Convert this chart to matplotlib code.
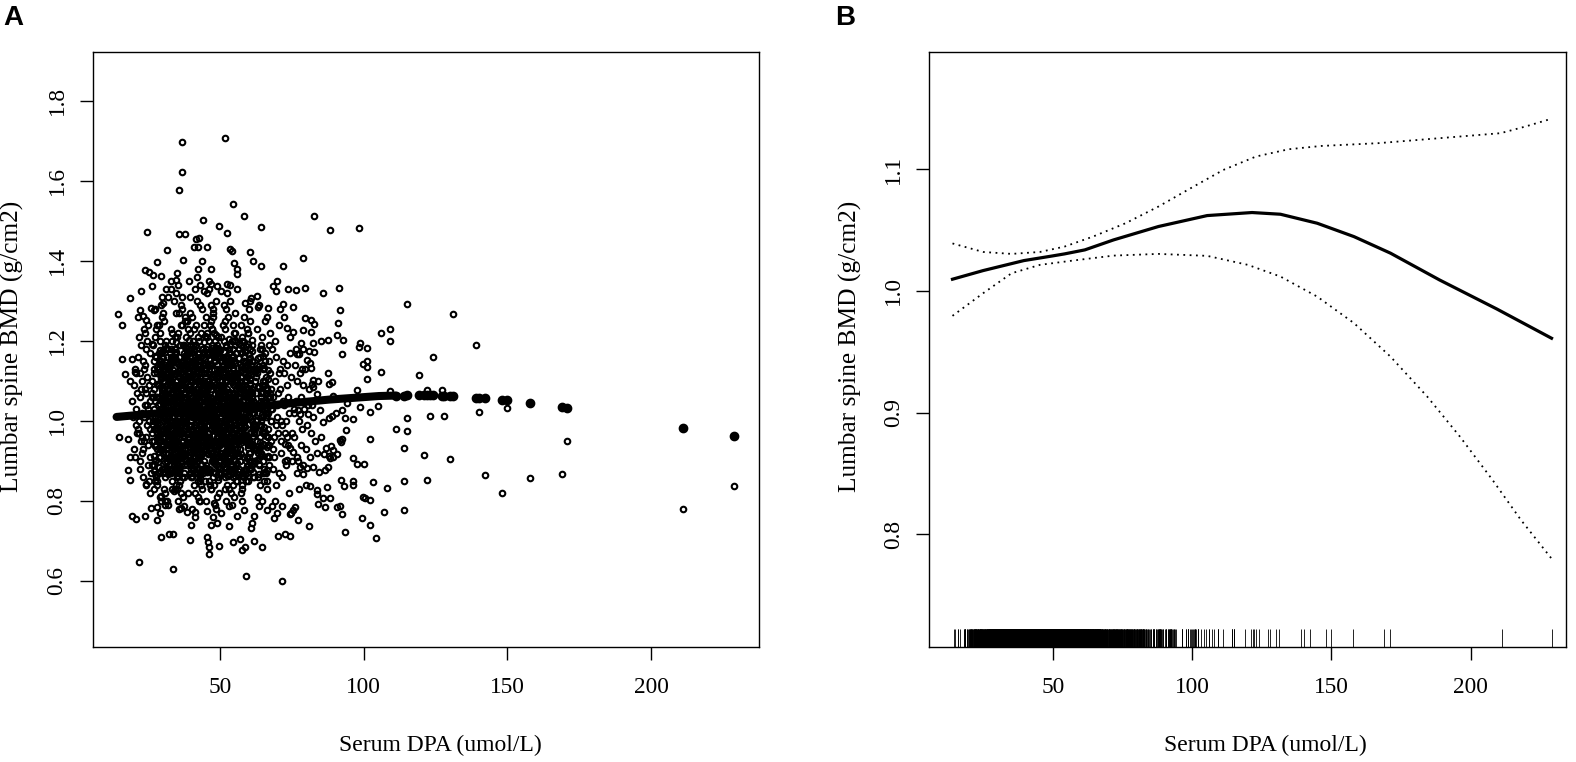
import numpy as np
import matplotlib.pyplot as plt

plt.rcParams['font.family'] = ['Liberation Serif', 'DejaVu Serif']

edge_dpa = [
    36.8, 36.7, 35.8, 51.9, 54.6, 58.2, 64.4, 44.2, 49.8, 52.5,
    24.7, 35.6, 37.9, 31.4, 28.1, 24.0, 25.3, 26.7, 29.4, 37.0,
    41.8, 42.8, 41.1, 42.3, 45.4, 43.9, 46.7, 54.2, 53.5, 54.7,
    55.8, 56.0, 60.4, 61.4, 64.4, 14.4, 16.0, 18.6, 16.0, 16.8,
    19.3, 22.1, 23.3, 24.4, 26.0, 27.0, 26.3, 20.3, 18.6, 14.9,
    18.1, 18.6, 18.1, 18.6, 19.3, 20.7, 23.9, 21.8, 33.7, 33.7,
    32.3, 29.5, 28.1, 28.2, 30.9, 39.6, 45.6, 45.8, 46.3, 46.3,
    49.8, 46.7, 53.3, 54.4, 56.8, 57.5, 58.6, 59.1, 60.7, 61.8,
    64.6, 36.5, 38.6, 41.4, 47.9, 64.6, 68.1, 33.0, 34.6, 31.8,
    30.2, 39.1, 43.2, 44.4, 47.0, 48.8, 50.5, 52.3, 55.8, 58.8,
    60.7, 62.8, 63.2, 66.7, 68.6, 69.5, 26.3, 22.5, 29.5, 33.9,
    37.4, 42.6, 45.3, 50.5, 53.2, 55.8, 58.4, 61.9, 63.7, 66.3,
    68.9, 71.6, 74.7, 40.0, 48.8, 61.1, 26.0, 24.2,
]
edge_bmd = [
    1.696, 1.622, 1.578, 1.706, 1.543, 1.512, 1.485, 1.501, 1.488, 1.470,
    1.473, 1.466, 1.466, 1.426, 1.398, 1.377, 1.371, 1.365, 1.363, 1.401,
    1.454, 1.456, 1.434, 1.435, 1.434, 1.400, 1.379, 1.424, 1.430, 1.394,
    1.379, 1.366, 1.422, 1.399, 1.388, 1.266, 1.239, 1.307, 1.154, 1.117,
    1.154, 1.276, 1.263, 1.251, 1.282, 1.276, 1.193, 1.123, 1.099, 0.959,
    0.954, 0.910, 0.876, 0.851, 0.763, 0.754, 0.761, 0.648, 0.629, 0.717,
    0.717, 0.709, 0.751, 0.785, 0.800, 0.702, 0.709, 0.696, 0.684, 0.668,
    0.687, 0.739, 0.737, 0.696, 0.705, 0.678, 0.684, 0.613, 0.733, 0.699,
    0.684, 0.782, 0.773, 0.773, 0.794, 0.800, 0.788, 1.330, 1.351, 1.310,
    1.294, 1.349, 1.339, 1.324, 1.343, 1.337, 1.324, 1.343, 1.329, 1.294,
    1.306, 1.312, 1.285, 1.283, 1.337, 1.324, 1.337, 1.324, 0.812, 0.824,
    0.788, 0.800, 0.775, 0.770, 0.788, 0.763, 0.776, 0.763, 0.788, 0.776,
    0.757, 0.788, 0.770, 0.739, 0.745, 0.745, 0.782, 0.843,
]

# observed points right of x = 70
tail_dpa = [
    82.8, 88.3, 98.5, 79.0, 71.8, 70.0, 73.8, 76.5, 79.7, 86.0,
    91.4, 72.0, 75.3, 91.9, 79.6, 81.6, 82.8, 73.4, 75.5, 78.8,
    91.2, 81.6, 115.1, 131.1, 139.1, 106.0, 109.2, 109.2, 98.7, 101.0,
    98.5, 85.2, 87.7, 90.6, 92.7, 92.6, 82.2, 78.1, 79.0, 81.1,
    82.8, 76.7, 77.5, 124.1, 119.1, 106.2, 101.0, 99.9, 101.3, 101.0,
    97.8, 87.5, 88.9, 88.1, 82.2, 81.9, 82.5, 81.7, 81.3, 78.5,
    80.2, 76.7, 83.6, 89.2, 109.2, 122.0, 127.2, 105.1, 98.7, 102.2,
    94.1, 92.3, 93.5, 96.2, 86.0, 88.1, 88.9, 90.4, 84.8, 80.7,
    77.8, 77.3, 115.1, 123.1, 128.1, 140.1, 150.0, 115.1, 111.1, 102.2,
    93.9, 92.1, 92.3, 89.4, 88.5, 86.9, 86.3, 88.1, 114.2, 121.1,
    130.2, 96.2, 97.8, 100.2, 114.2, 122.2, 142.2, 148.0, 157.9, 108.0,
    103.1, 92.1, 93.2, 96.4, 96.4, 87.1, 83.6, 81.3, 99.7, 100.5,
    102.2, 114.2, 107.2, 99.3, 102.2, 104.3, 93.5, 91.8, 90.6, 92.3,
    88.3, 86.0, 83.6, 84.2, 86.5, 81.1, 77.0, 75.5, 76.1, 74.4,
    70.3, 72.6, 74.4, 70.0, 71.5, 77.8, 80.2, 79.0, 76.7, 82.5,
    84.6, 86.5, 87.7, 88.3, 89.4, 90.6, 91.8, 75.5, 74.4, 72.6,
    73.2, 169.0, 170.9, 211.1, 229.0,
]
tail_bmd = [
    1.512, 1.477, 1.483, 1.406, 1.387, 1.349, 1.329, 1.327, 1.331, 1.320,
    1.331, 1.291, 1.284, 1.276, 1.256, 1.252, 1.242, 1.231, 1.223, 1.227,
    1.244, 1.222, 1.293, 1.266, 1.189, 1.219, 1.229, 1.199, 1.194, 1.182,
    1.185, 1.199, 1.202, 1.214, 1.202, 1.167, 1.195, 1.195, 1.180, 1.175,
    1.171, 1.167, 1.167, 1.159, 1.114, 1.123, 1.135, 1.143, 1.150, 1.105,
    1.078, 1.120, 1.098, 1.092, 1.103, 1.093, 1.085, 1.133, 1.145, 1.130,
    1.152, 1.100, 1.067, 1.062, 1.075, 1.078, 1.077, 1.037, 1.035, 1.023,
    1.044, 1.027, 1.006, 1.004, 0.998, 1.008, 1.012, 1.020, 1.027, 1.018,
    1.018, 1.028, 1.008, 1.013, 1.013, 1.022, 1.031, 0.975, 0.979, 0.954,
    0.978, 0.948, 0.954, 0.927, 0.938, 0.931, 0.918, 0.912, 0.931, 0.914,
    0.904, 0.908, 0.892, 0.893, 0.849, 0.853, 0.864, 0.820, 0.858, 0.831,
    0.848, 0.853, 0.837, 0.849, 0.839, 0.834, 0.827, 0.837, 0.810, 0.806,
    0.803, 0.778, 0.773, 0.758, 0.739, 0.706, 0.722, 0.787, 0.785, 0.766,
    0.806, 0.806, 0.818, 0.793, 0.785, 0.737, 0.752, 0.777, 0.785, 0.768,
    0.712, 0.716, 0.712, 0.770, 0.599, 0.885, 0.881, 0.868, 0.910, 0.885,
    0.873, 0.877, 0.885, 0.906, 0.910, 0.918, 0.952, 0.923, 0.931, 0.943,
    0.902, 0.866, 0.950, 0.780, 0.836,
]

# the body of the cloud, estimated column by column
core_dpa = [
    19.5, 20.2, 20.8, 21.4, 21.9, 22.3, 22.8, 23.1, 23.6, 24.0,
    24.4, 24.9, 25.3, 25.8, 20.5, 21.1, 21.7, 22.5, 23.3, 23.9,
    24.6, 25.1, 25.6, 19.8, 20.9, 22.0, 22.7, 23.5, 24.2, 24.8,
    25.5, 21.3, 22.1, 23.0, 23.8, 24.5, 25.2, 25.9, 20.6, 21.6,
    22.4, 23.4, 24.3, 25.0, 25.7, 19.9, 21.0, 22.2, 23.2, 24.1,
    24.7, 25.4, 21.8, 22.9, 23.7, 24.5, 25.6, 20.4, 22.6, 24.0,
    26.3, 27.1, 27.8, 28.4, 29.0, 29.6, 30.2, 30.8, 31.4, 31.9,
    26.7, 27.4, 28.1, 28.8, 29.3, 29.9, 30.5, 31.1, 31.7, 26.5,
    27.2, 27.9, 28.6, 29.2, 29.8, 30.4, 31.0, 31.6, 26.9, 27.6,
    28.3, 28.9, 29.5, 30.1, 30.7, 31.3, 31.8, 26.4, 27.0, 27.7,
    28.2, 28.7, 29.4, 30.0, 30.6, 31.2, 31.5, 26.8, 27.5, 28.5,
    29.1, 29.7, 30.3, 30.9, 31.6, 26.6, 27.3, 28.0, 28.6, 29.2,
    29.8, 30.4, 31.0, 31.7, 26.2, 27.0, 27.9, 28.4, 29.5, 30.1,
    30.8, 31.4, 31.9, 26.9, 27.6, 28.3, 29.0, 29.6, 30.2, 30.7,
    31.3, 27.2, 28.0, 28.8, 29.4, 30.0, 30.6, 31.1, 31.8, 26.5,
    27.4, 28.1, 28.9, 29.7, 30.5, 31.2, 27.8, 28.7, 29.9, 30.9,
    31.5, 26.7, 27.5, 28.2, 29.3, 30.3, 31.0, 31.6, 27.1, 28.5,
    29.1, 30.0, 30.7, 31.4, 26.4, 27.7, 28.6, 29.8, 30.4, 31.9,
    32.2, 32.8, 33.4, 34.0, 34.6, 35.2, 35.8, 36.4, 37.0, 37.6,
    32.5, 33.1, 33.7, 34.3, 34.9, 35.5, 36.1, 36.7, 37.3, 37.9,
    32.0, 32.6, 33.2, 33.8, 34.4, 35.0, 35.6, 36.2, 36.8, 37.4,
    32.9, 33.5, 34.1, 34.7, 35.3, 35.9, 36.5, 37.1, 37.7, 32.3,
    33.0, 33.6, 34.2, 34.8, 35.4, 36.0, 36.6, 37.2, 37.8, 32.7,
    33.3, 33.9, 34.5, 35.1, 35.7, 36.3, 36.9, 37.5, 32.1, 32.4,
    33.8, 34.4, 35.0, 35.6, 36.2, 36.8, 37.4, 32.6, 33.2, 34.0,
    34.6, 35.2, 35.8, 36.4, 37.0, 37.6, 32.8, 33.4, 34.2, 34.9,
    35.5, 36.1, 36.7, 37.3, 37.9, 32.2, 33.0, 33.7, 34.5, 35.3,
    36.0, 36.6, 37.2, 37.7, 32.5, 33.3, 34.1, 34.8, 35.6, 36.3,
    36.9, 37.5, 32.9, 33.6, 34.3, 35.0, 35.7, 36.4, 37.1, 37.8,
    32.3, 33.1, 33.9, 34.7, 35.4, 36.2, 36.8, 37.5, 32.7, 34.4,
    35.1, 35.9, 36.6, 37.3, 33.5, 34.1, 35.8, 36.5, 37.0, 32.0,
    33.8, 34.6, 35.3, 36.0, 36.7, 37.4, 32.4, 33.2, 34.9, 35.6,
    36.3, 37.0, 37.6, 32.6, 33.4, 34.2, 35.0, 35.7, 36.4, 37.2,
    32.8, 33.6, 34.5, 35.4, 36.1, 36.9, 37.7, 33.0, 34.0, 35.2,
    38.2, 38.8, 39.4, 40.0, 40.6, 41.2, 41.8, 42.4, 43.0, 43.6,
    38.5, 39.1, 39.7, 40.3, 40.9, 41.5, 42.1, 42.7, 43.3, 43.9,
    38.0, 38.6, 39.2, 39.8, 40.4, 41.0, 41.6, 42.2, 42.8, 43.4,
    38.9, 39.5, 40.1, 40.7, 41.3, 41.9, 42.5, 43.1, 43.7, 38.3,
    39.0, 39.6, 40.2, 40.8, 41.4, 42.0, 42.6, 43.2, 43.8, 38.7,
    39.3, 39.9, 40.5, 41.1, 41.7, 42.3, 42.9, 43.5, 38.1, 38.4,
    39.8, 40.4, 41.0, 41.6, 42.2, 42.8, 43.4, 38.6, 39.2, 40.0,
    40.6, 41.2, 41.8, 42.4, 43.0, 43.6, 38.8, 39.4, 40.2, 40.9,
    41.5, 42.1, 42.7, 43.3, 43.9, 38.2, 39.0, 39.7, 40.5, 41.3,
    42.0, 42.6, 43.2, 43.7, 38.5, 39.3, 40.1, 40.8, 41.6, 42.3,
    42.9, 43.5, 38.9, 39.6, 40.3, 41.0, 41.7, 42.4, 43.1, 43.8,
    38.3, 39.1, 39.9, 40.7, 41.4, 42.2, 42.8, 43.5, 38.7, 40.4,
    41.1, 41.9, 42.6, 43.3, 39.5, 40.1, 41.8, 42.5, 43.0, 38.0,
    39.8, 40.6, 41.3, 42.0, 42.7, 43.4, 38.4, 39.2, 40.9, 41.6,
    42.3, 43.0, 43.6, 38.6, 39.4, 40.2, 41.0, 41.7, 42.4, 43.2,
    38.8, 39.6, 40.5, 41.4, 42.1, 42.9, 43.7, 39.0, 40.0, 41.2,
    44.2, 44.8, 45.4, 46.0, 46.6, 47.2, 47.8, 48.4, 49.0, 49.6,
    44.5, 45.1, 45.7, 46.3, 46.9, 47.5, 48.1, 48.7, 49.3, 49.9,
    44.0, 44.6, 45.2, 45.8, 46.4, 47.0, 47.6, 48.2, 48.8, 49.4,
    44.9, 45.5, 46.1, 46.7, 47.3, 47.9, 48.5, 49.1, 49.7, 44.3,
    45.0, 45.6, 46.2, 46.8, 47.4, 48.0, 48.6, 49.2, 49.8, 44.7,
    45.3, 45.9, 46.5, 47.1, 47.7, 48.3, 48.9, 49.5, 44.1, 44.4,
    45.8, 46.4, 47.0, 47.6, 48.2, 48.8, 49.4, 44.6, 45.2, 46.0,
    46.6, 47.2, 47.8, 48.4, 49.0, 49.6, 44.8, 45.4, 46.2, 46.9,
    47.5, 48.1, 48.7, 49.3, 49.9, 44.2, 45.0, 45.7, 46.5, 47.3,
    48.0, 48.6, 49.2, 49.7, 44.5, 45.3, 46.1, 46.8, 47.6, 48.3,
    48.9, 49.5, 44.9, 45.6, 46.3, 47.0, 47.7, 48.4, 49.1, 49.8,
    44.3, 45.1, 45.9, 46.7, 47.4, 48.2, 48.8, 49.5, 44.7, 46.4,
    47.1, 47.9, 48.6, 49.3, 45.5, 46.1, 47.8, 48.5, 49.0, 44.0,
    45.8, 46.6, 47.3, 48.0, 48.7, 49.4, 44.4, 45.2, 46.9, 47.6,
    48.3, 49.0, 49.6, 44.6, 45.4, 46.2, 47.0, 47.7, 48.4, 49.2,
    44.8, 45.6, 46.5, 47.4, 48.1, 48.9, 49.7, 45.0, 46.0, 47.2,
    50.2, 50.8, 51.4, 52.0, 52.6, 53.2, 53.8, 54.4, 55.0, 55.6,
    50.5, 51.1, 51.7, 52.3, 52.9, 53.5, 54.1, 54.7, 55.3, 55.9,
    50.0, 50.6, 51.2, 51.8, 52.4, 53.0, 53.6, 54.2, 54.8, 55.4,
    50.9, 51.5, 52.1, 52.7, 53.3, 53.9, 54.5, 55.1, 55.7, 50.3,
    51.0, 51.6, 52.2, 52.8, 53.4, 54.0, 54.6, 55.2, 55.8, 50.7,
    51.3, 51.9, 52.5, 53.1, 53.7, 54.3, 54.9, 55.5, 50.1, 50.4,
    51.8, 52.4, 53.0, 53.6, 54.2, 54.8, 55.4, 50.6, 51.2, 52.0,
    52.6, 53.2, 53.8, 54.4, 55.0, 55.6, 50.8, 51.4, 52.2, 52.9,
    53.5, 54.1, 54.7, 55.3, 55.9, 50.2, 51.0, 51.7, 52.5, 53.3,
    54.0, 54.6, 55.2, 55.7, 50.5, 51.3, 52.1, 52.8, 53.6, 54.3,
    54.9, 55.5, 50.9, 51.6, 52.3, 53.0, 53.7, 54.4, 55.1, 55.8,
    50.3, 51.1, 51.9, 52.7, 53.4, 54.2, 54.8, 55.5, 50.7, 52.4,
    53.1, 53.9, 54.6, 55.3, 51.5, 52.1, 53.8, 54.5, 55.0, 50.0,
    51.8, 52.6, 53.3, 54.0, 54.7, 55.4, 50.4, 51.2, 52.9, 53.6,
    56.2, 56.8, 57.4, 58.0, 58.6, 59.2, 59.8, 60.4, 61.0, 61.6,
    56.5, 57.1, 57.7, 58.3, 58.9, 59.5, 60.1, 60.7, 61.3, 61.9,
    56.0, 56.6, 57.2, 57.8, 58.4, 59.0, 59.6, 60.2, 60.8, 61.4,
    56.9, 57.5, 58.1, 58.7, 59.3, 59.9, 60.5, 61.1, 61.7, 56.3,
    57.0, 57.6, 58.2, 58.8, 59.4, 60.0, 60.6, 61.2, 61.8, 56.7,
    57.3, 57.9, 58.5, 59.1, 59.7, 60.3, 60.9, 61.5, 56.1, 56.4,
    57.8, 58.4, 59.0, 59.6, 60.2, 60.8, 61.4, 56.6, 57.2, 58.0,
    58.6, 59.2, 59.8, 60.4, 61.0, 61.6, 56.8, 57.4, 58.2, 58.9,
    59.5, 60.1, 60.7, 61.3, 61.9, 56.2, 57.0, 57.7, 58.5, 59.3,
    60.0, 60.6, 61.2, 61.7, 56.5, 57.3, 58.1, 58.8, 59.6, 60.3,
    60.9, 61.5, 56.9, 57.6, 58.3, 59.0, 59.7, 60.4, 61.1, 61.8,
    62.3, 62.9, 63.5, 64.1, 64.7, 65.3, 65.9, 66.5, 67.1, 67.7,
    62.6, 63.2, 63.8, 64.4, 65.0, 65.6, 66.2, 66.8, 67.4, 62.1,
    62.8, 63.4, 64.0, 64.6, 65.2, 65.8, 66.4, 67.0, 67.6, 63.0,
    63.6, 64.2, 64.8, 65.4, 66.0, 66.6, 67.2, 67.8, 62.4, 63.1,
    64.3, 64.9, 65.5, 66.1, 66.7, 67.3, 62.7, 63.3, 63.9, 64.5,
    65.1, 65.7, 66.3, 66.9, 67.5, 62.2, 62.8, 63.7, 64.4, 65.0,
    65.6, 66.2, 66.8, 67.4, 62.5, 63.5, 64.1, 64.9, 65.9, 66.6,
    67.0, 67.9, 62.9, 63.8, 64.6, 65.4, 66.0, 66.9, 67.6, 63.2,
    68.2, 68.9, 69.6, 70.3, 71.0, 71.7, 72.4, 73.1, 73.8, 74.5,
    68.5, 69.2, 69.9, 70.6, 71.3, 72.0, 72.7, 73.4, 74.1, 75.2,
    68.0, 68.7, 69.4, 70.1, 70.8, 71.5, 72.2, 72.9, 73.6, 74.8,
    68.4, 69.1, 69.8, 70.5, 71.2, 71.9, 72.6, 73.3, 74.0, 75.6,
    68.6, 69.5, 70.4, 71.4, 72.3, 73.2, 74.2, 75.0, 69.0, 70.9,
    75.8, 76.4, 77.1, 77.9, 78.6, 79.3, 80.1, 80.8, 81.6, 82.4,
    76.1, 76.9, 77.6, 78.3, 79.0, 79.8, 80.5, 81.3, 83.1, 84.0,
    75.9, 76.6, 77.4, 78.1, 78.9, 79.6, 80.3, 82.0, 83.7, 85.1,
]
core_bmd = [
    1.05, 0.93, 1.12, 0.98, 1.21, 0.88, 1.02, 1.15, 0.95, 1.08,
    0.84, 1.24, 1.00, 0.91, 1.13, 1.07, 0.97, 1.19, 0.86, 1.04,
    1.11, 0.94, 1.17, 1.01, 0.99, 0.90, 1.10, 1.23, 0.96, 1.03,
    0.82, 1.16, 1.06, 0.92, 1.14, 0.99, 1.09, 0.87, 1.03, 1.26,
    0.95, 1.01, 1.18, 0.89, 1.05, 1.09, 0.97, 1.12, 0.93, 1.07,
    1.20, 0.85, 1.00, 0.96, 1.13, 1.04, 0.98, 0.91, 1.08, 1.22,
    0.97, 1.13, 0.86, 1.04, 1.22, 0.93, 1.08, 0.79, 1.16, 1.01,
    1.19, 0.90, 1.06, 0.95, 1.29, 1.02, 0.88, 1.11, 0.99, 1.07,
    0.83, 1.00, 1.17, 0.91, 1.05, 1.25, 0.96, 1.12, 1.03, 0.94,
    1.09, 0.87, 1.14, 0.98, 0.82, 1.20, 1.04, 0.89, 1.15, 1.00,
    1.24, 0.96, 0.80, 1.10, 1.01, 0.92, 1.18, 1.06, 0.85, 1.13,
    1.02, 1.31, 0.94, 1.07, 0.88, 0.99, 1.21, 0.93, 1.09, 0.77,
    1.14, 0.97, 1.03, 0.90, 1.06, 1.12, 0.84, 1.01, 0.95, 1.27,
    0.86, 1.08, 1.18, 0.98, 1.23, 1.04, 0.81, 1.15, 0.92, 1.05,
    0.99, 0.89, 1.12, 1.02, 1.17, 0.87, 1.00, 1.33, 0.94, 1.10,
    1.05, 0.97, 0.91, 1.26, 0.83, 1.07, 1.16, 0.95, 1.03, 1.19,
    0.90, 1.00, 1.28, 0.85, 1.11, 0.96, 1.14, 0.80, 1.08, 0.98,
    1.20, 0.93, 1.02, 1.09, 0.95, 1.06, 1.24, 0.88, 1.13, 0.97,
    1.02, 0.88, 1.15, 0.96, 1.27, 0.83, 1.09, 1.00, 0.92, 1.19,
    1.06, 1.23, 0.90, 1.12, 0.98, 1.34, 0.85, 1.04, 1.17, 0.94,
    0.79, 1.10, 1.01, 0.93, 1.21, 1.07, 0.97, 1.14, 0.86, 1.03,
    1.18, 0.95, 1.30, 1.05, 0.89, 1.11, 0.99, 0.81, 1.25, 1.08,
    0.91, 1.03, 1.16, 0.84, 1.07, 0.97, 1.28, 1.13, 1.00, 0.87,
    1.22, 0.99, 0.94, 1.37, 1.02, 0.90, 1.08, 0.96, 1.14, 1.05,
    0.97, 1.18, 1.06, 0.88, 1.13, 1.31, 0.92, 1.09, 0.83, 1.01,
    1.10, 0.86, 1.02, 1.24, 0.95, 1.07, 0.98, 1.20, 0.91, 1.15,
    0.89, 1.12, 0.97, 1.04, 1.26, 1.08, 0.94, 1.00, 1.17, 0.80,
    1.03, 0.93, 1.19, 0.99, 1.11, 0.85, 1.06, 1.32, 0.96, 1.09,
    1.14, 1.00, 0.87, 1.05, 0.92, 1.21, 0.98, 0.82, 1.08, 1.03,
    0.95, 1.16, 1.01, 0.90, 1.12, 0.97, 1.24, 1.06, 0.88, 1.18,
    1.00, 0.84, 1.09, 1.15, 0.99, 1.04, 0.93, 1.29, 1.02, 1.11,
    1.07, 0.96, 1.22, 0.91, 1.03, 0.86, 1.13, 0.98, 1.05, 0.78,
    0.92, 1.10, 1.01, 1.17, 0.94, 1.08, 0.89, 1.27, 1.04, 0.97,
    1.12, 0.99, 0.83, 1.06, 1.19, 0.95, 1.02, 1.35, 0.90, 1.10,
    0.94, 1.11, 1.03, 0.86, 1.20, 0.99, 1.07, 0.90, 1.16, 1.01,
    1.25, 0.96, 1.08, 1.14, 0.84, 1.02, 1.30, 0.93, 1.05, 0.98,
    1.06, 0.89, 1.17, 1.00, 0.95, 1.23, 0.87, 1.10, 0.97, 1.13,
    0.82, 1.04, 0.92, 1.19, 1.09, 0.95, 1.15, 1.03, 0.88, 1.21,
    1.12, 1.27, 0.98, 1.01, 0.91, 1.36, 1.05, 0.85, 1.18, 0.96,
    0.99, 0.87, 1.13, 0.93, 1.24, 1.06, 0.80, 1.09, 1.02, 1.15,
    1.19, 1.01, 0.90, 1.08, 0.97, 1.14, 1.22, 0.94, 1.05, 0.88,
    0.96, 1.33, 1.04, 0.85, 1.11, 0.99, 1.17, 0.91, 1.26, 1.03,
    1.07, 0.92, 1.20, 1.00, 0.83, 1.13, 0.97, 1.09, 0.94, 1.16,
    0.88, 1.05, 0.99, 1.28, 1.02, 0.90, 1.14, 0.96, 1.07, 0.81,
    1.10, 0.95, 1.23, 0.87, 1.04, 1.18, 0.93, 1.01, 1.29, 0.98,
    1.03, 1.15, 0.89, 1.06, 0.97, 1.21, 1.00, 0.84, 1.12, 0.92,
    0.95, 1.08, 1.17, 0.99, 1.31, 0.86, 1.05, 1.12, 0.91, 1.02,
    1.14, 0.98, 0.82, 1.10, 1.02, 0.94, 1.25, 1.07, 0.89, 1.19,
    1.00, 0.91, 1.06, 0.97, 1.16, 0.78, 1.11, 1.03, 1.38, 0.95,
    1.08, 1.22, 0.94, 1.01, 0.87, 1.13, 1.04, 0.96, 1.10, 0.76,
    1.01, 0.85, 1.12, 0.97, 1.06, 1.23, 0.90, 1.15, 0.99, 0.82,
    0.93, 1.18, 1.04, 0.88, 1.29, 1.00, 1.09, 0.95, 1.21, 1.07,
    1.14, 0.98, 0.80, 1.10, 0.94, 1.03, 1.26, 0.87, 1.05, 0.96,
    1.08, 1.32, 0.96, 1.02, 1.17, 0.84, 1.11, 0.99, 0.91, 1.24,
    0.89, 1.06, 1.20, 0.95, 1.01, 1.13, 0.78, 1.07, 1.16, 1.00,
    1.22, 0.92, 1.05, 1.14, 0.86, 0.98, 1.19, 1.03, 0.94, 1.10,
    0.97, 1.09, 0.83, 1.27, 1.04, 0.93, 1.02, 1.12, 0.88, 1.35,
    1.05, 0.90, 1.15, 0.99, 0.81, 1.08, 0.96, 1.21, 1.01, 0.92,
    1.11, 1.01, 0.94, 1.18, 1.07, 0.87, 1.13, 0.97, 1.24, 1.04,
    0.95, 1.30, 1.06, 0.90, 1.16, 1.02, 0.85, 1.09, 0.99, 1.20,
    1.02, 0.88, 1.12, 1.05, 0.93, 1.25, 1.00, 0.79, 1.14, 0.97,
    1.17, 1.03, 0.96, 1.08, 1.28, 0.91, 1.06, 1.13, 0.98, 0.84,
    0.92, 1.15, 1.01, 0.86, 1.10, 0.99, 1.22, 0.95, 1.04, 1.08,
    1.06, 0.94, 1.19, 1.02, 0.89, 1.11, 0.97, 1.26, 0.83, 1.00,
    0.98, 1.12, 0.87, 1.07, 0.95, 1.33, 1.03, 0.90, 1.16, 1.05,
    1.13, 0.99, 1.04, 0.76, 1.18, 0.93, 1.09, 1.01, 0.96, 1.23,
    0.96, 1.10, 0.87, 1.19, 1.02, 0.93, 1.14, 1.05, 0.81, 1.08,
    1.16, 0.99, 1.25, 0.90, 1.07, 1.30, 0.95, 1.12, 1.01, 0.85,
    1.04, 0.92, 1.13, 1.00, 0.84, 1.18, 1.06, 0.97, 1.22, 0.89,
    0.91, 1.20, 1.03, 0.95, 1.11, 1.01, 0.86, 1.27, 0.98, 1.15,
    1.09, 0.83, 0.97, 1.15, 0.92, 1.06, 1.24, 0.90, 1.04, 0.99,
    1.00, 1.13, 1.32, 0.88, 1.03, 0.96, 1.09, 1.17, 0.94, 1.21,
    1.23, 1.05, 0.91, 1.01, 1.20, 0.87, 0.99, 1.08, 1.14, 0.80,
    0.94, 1.17, 1.07, 0.84, 0.97, 1.12, 1.03, 0.90, 1.28, 1.06,
    1.12, 0.89, 1.01, 1.22, 1.08, 0.95, 1.16, 1.04, 0.93, 0.98,
    0.88, 1.03, 1.19, 0.96, 1.00, 1.11, 0.92, 1.26, 1.05, 0.79,
    1.07, 0.95, 1.09, 0.86, 1.14, 1.02, 0.82, 1.18, 0.99, 1.10,
    0.97, 1.24, 1.00, 1.13, 0.90, 1.05, 0.98, 0.85, 1.15, 1.08,
    1.02, 0.93, 1.11, 1.06, 1.29, 0.96, 0.88, 1.01, 1.20, 0.92,
    1.10, 1.00, 0.83, 1.16, 0.94, 1.03, 1.13, 0.97, 1.07, 1.34,
    1.04, 0.90, 1.17, 0.98, 1.09, 0.85, 1.22, 1.01, 0.94, 1.13,
    0.88, 1.07, 0.96, 1.26, 1.02, 1.14, 0.91, 1.05, 1.19, 0.99,
    1.11, 0.97, 1.04, 0.83, 1.16, 0.95, 1.08, 1.28, 0.89, 1.03,
    0.93, 1.20, 1.00, 1.10, 0.87, 1.05, 0.97, 1.15, 1.02, 0.92,
    1.06, 0.84, 1.13, 0.95, 1.23, 1.01, 0.90, 1.08, 0.98, 1.18,
    1.00, 1.15, 0.91, 1.03, 0.96, 1.30, 1.07, 0.86, 1.12, 0.95,
    1.21, 0.99, 1.06, 0.89, 1.12, 0.94, 1.02, 1.09, 0.82, 1.04,
    0.96, 1.10, 0.85, 1.18, 1.00, 1.05, 0.93, 1.24, 1.01, 0.88,
    1.08, 0.92, 1.14, 1.03, 0.97, 1.07, 0.99, 0.80, 1.16, 1.11,
    0.95, 1.25, 1.02, 0.90, 1.06, 1.19, 0.87, 1.01, 0.94, 1.09,
    1.13, 0.98, 1.00, 1.11, 0.86, 1.04, 1.22, 0.92, 1.07, 0.97,
    0.98, 1.12, 0.89, 1.05, 1.21, 0.94, 1.01, 0.85, 1.15, 1.03,
    1.07, 0.92, 1.18, 0.99, 0.87, 1.10, 1.26, 0.96, 1.06, 0.90,
    1.14, 1.02, 0.84, 1.09, 0.97, 1.17, 0.91, 1.04, 0.95, 1.23,
    0.93, 1.06, 1.13, 0.88, 1.02, 0.96, 1.19, 1.00, 1.11, 0.86,
    1.04, 0.90, 1.25, 1.08, 0.94, 1.12, 0.99, 0.81, 1.16, 1.01,
    0.97, 1.15, 1.03, 0.89, 1.07, 1.10, 0.95, 1.29, 0.92, 1.05,
    1.09, 0.83, 0.98, 1.22, 1.00, 0.93, 1.07, 1.14, 0.87, 1.02,
    0.91, 1.08, 1.04, 0.96, 1.18, 0.85, 1.11, 0.94, 1.00, 1.13,
    1.03, 0.91, 1.16, 0.97, 1.08, 0.86, 1.12, 1.00, 0.94, 1.21,
    0.88, 1.10, 1.01, 1.24, 0.95, 1.05, 0.90, 1.14, 1.02, 0.97,
    1.18, 0.96, 0.84, 1.07, 1.13, 0.99, 1.26, 0.89, 1.06, 1.11,
    0.93, 1.20, 1.04, 0.87, 1.00, 1.15, 0.97, 1.09, 0.82, 1.03,
    1.06, 0.99, 1.12, 0.92, 1.04, 0.96, 1.17, 0.90, 0.80, 1.28,
    0.96, 1.05, 0.90, 1.12, 0.98, 1.03, 0.93, 1.08, 0.97, 1.01,
    1.14, 0.87, 1.00, 0.94, 1.09, 0.84, 1.04, 0.91, 0.95, 1.10,
    1.02, 1.18, 0.83, 1.06, 0.89, 1.13, 0.99, 1.04, 0.92, 0.96,
]

# the solid-black centre of the cloud (x 27-67, y 0.85-1.22)
dense_dpa = [
    27.0, 31.0, 35.0, 39.0, 43.0, 47.0, 51.0, 55.0, 59.0, 63.0,
    29.1, 33.1, 37.1, 41.1, 45.1, 49.1, 53.1, 57.1, 61.1, 65.1,
    28.3, 32.3, 36.3, 40.3, 44.3, 48.3, 52.3, 56.3, 60.3, 64.3,
    30.4, 34.4, 38.4, 42.4, 46.4, 50.4, 54.4, 58.4, 62.4, 66.4,
    27.6, 31.6, 35.6, 39.6, 43.6, 47.6, 51.6, 55.6, 59.6, 63.6,
    29.7, 33.7, 37.7, 41.7, 45.7, 49.7, 53.7, 57.7, 61.7, 65.7,
    28.9, 32.9, 36.9, 40.9, 44.9, 48.9, 52.9, 56.9, 60.9, 64.9,
    30.0, 34.0, 38.0, 42.0, 46.0, 50.0, 54.0, 58.0, 62.0, 66.0,
    27.3, 31.3, 35.3, 39.3, 43.3, 47.3, 51.3, 55.3, 59.3, 63.3,
    29.4, 33.4, 37.4, 41.4, 45.4, 49.4, 53.4, 57.4, 61.4, 65.4,
    28.6, 32.6, 36.6, 40.6, 44.6, 48.6, 52.6, 56.6, 60.6, 64.6,
    30.7, 34.7, 38.7, 42.7, 46.7, 50.7, 54.7, 58.7, 62.7, 66.7,
    27.9, 31.9, 35.9, 39.9, 43.9, 47.9, 51.9, 55.9, 59.9, 63.9,
    29.2, 33.2, 37.2, 41.2, 45.2, 49.2, 53.2, 57.2, 61.2, 65.2,
    28.1, 32.1, 36.1, 40.1, 44.1, 48.1, 52.1, 56.1, 60.1, 64.1,
    30.2, 34.2, 38.2, 42.2, 46.2, 50.2, 54.2, 58.2, 62.2, 66.2,
    27.4, 31.4, 35.4, 39.4, 43.4, 47.4, 51.4, 55.4, 59.4, 63.4,
    29.9, 33.9, 37.9, 41.9, 45.9, 49.9, 53.9, 57.9, 61.9, 65.9,
    28.5, 32.5, 36.5, 40.5, 44.5, 48.5, 52.5, 56.5, 60.5, 64.5,
    30.6, 34.6, 38.6, 42.6, 46.6, 50.6, 54.6, 58.6, 62.6, 66.6,
    27.8, 31.8, 35.8, 39.8, 43.8, 47.8, 51.8, 55.8, 59.8, 63.8,
    29.5, 33.5, 37.5, 41.5, 45.5, 49.5, 53.5, 57.5, 61.5, 65.5,
    28.8, 32.8, 36.8, 40.8, 44.8, 48.8, 52.8, 56.8, 60.8, 64.8,
    30.3, 34.3, 38.3, 42.3, 46.3, 50.3, 54.3, 58.3, 62.3, 66.3,
    27.2, 31.2, 35.2, 39.2, 43.2, 47.2, 51.2, 55.2, 59.2, 63.2,
    29.0, 33.0, 37.0, 41.0, 45.0, 49.0, 53.0, 57.0, 61.0, 65.0,
    28.2, 32.2, 36.2, 40.2, 44.2, 48.2, 52.2, 56.2, 60.2, 64.2,
    30.8, 34.8, 38.8, 42.8, 46.8, 50.8, 54.8, 58.8, 62.8, 66.8,
    27.7, 31.7, 35.7, 39.7, 43.7, 47.7, 51.7, 55.7, 59.7, 63.7,
    29.6, 33.6, 37.6, 41.6, 45.6, 49.6, 53.6, 57.6, 61.6, 65.6,
    28.4, 32.4, 36.4, 40.4, 44.4, 48.4, 52.4, 56.4, 60.4, 64.4,
    30.1, 34.1, 38.1, 42.1, 46.1, 50.1, 54.1, 58.1, 62.1, 66.1,
    27.5, 31.5, 35.5, 39.5, 43.5, 47.5, 51.5, 55.5, 59.5, 63.5,
    29.3, 33.3, 37.3, 41.3, 45.3, 49.3, 53.3, 57.3, 61.3, 65.3,
    28.7, 32.7, 36.7, 40.7, 44.7, 48.7, 52.7, 56.7, 60.7, 64.7,
    30.5, 34.5, 38.5, 42.5, 46.5, 50.5, 54.5, 58.5, 62.5, 66.5,
    27.1, 31.1, 35.1, 39.1, 43.1, 47.1, 51.1, 55.1, 59.1, 63.1,
    29.8, 33.8, 37.8, 41.8, 45.8, 49.8, 53.8, 57.8, 61.8, 65.8,
    28.0, 32.0, 36.0, 40.0, 44.0, 48.0, 52.0, 56.0, 60.0, 64.0,
    30.9, 34.9, 38.9, 42.9, 46.9, 50.9, 54.9, 58.9, 62.9, 66.9,
]
dense_bmd = [
    0.912, 1.064, 0.987, 1.153, 0.856, 1.021, 1.117, 0.943, 1.186, 1.002,
    1.041, 0.874, 1.132, 0.968, 1.089, 0.921, 1.205, 1.013, 0.889, 1.072,
    0.953, 1.108, 0.897, 1.046, 0.975, 1.167, 0.864, 1.031, 1.094, 0.937,
    1.125, 0.991, 1.058, 0.883, 1.142, 0.949, 1.017, 1.198, 0.926, 1.083,
    0.868, 1.036, 0.934, 1.101, 1.009, 0.872, 1.159, 0.981, 1.052, 1.137,
    1.078, 0.945, 1.184, 0.997, 0.918, 1.112, 1.043, 0.861, 0.972, 1.026,
    0.994, 1.147, 0.906, 1.069, 1.211, 0.958, 1.035, 1.096, 0.879, 1.161,
    1.019, 0.893, 1.098, 0.941, 1.053, 1.176, 0.917, 1.008, 1.128, 0.962,
    1.163, 0.979, 0.862, 1.124, 0.936, 1.049, 0.985, 1.145, 1.061, 0.902,
    0.927, 1.087, 1.022, 0.887, 1.171, 0.998, 1.106, 0.951, 0.871, 1.047,
    1.056, 0.963, 1.139, 1.012, 0.899, 1.081, 0.944, 1.192, 1.028, 0.915,
    0.881, 1.116, 0.956, 1.073, 1.034, 0.909, 1.149, 0.866, 0.989, 1.104,
    1.092, 1.005, 0.873, 1.178, 0.961, 1.127, 1.015, 0.931, 1.066, 0.948,
    0.967, 1.154, 1.039, 0.924, 1.085, 0.852, 0.993, 1.113, 1.201, 0.984,
    1.134, 0.908, 1.068, 0.976, 1.143, 1.027, 0.885, 1.059, 0.942, 1.189,
    0.939, 1.045, 1.181, 0.869, 1.011, 0.954, 1.097, 0.996, 1.122, 0.877,
    1.007, 0.932, 0.982, 1.109, 0.891, 1.169, 1.062, 0.919, 1.037, 1.084,
    1.172, 1.077, 0.916, 1.024, 1.136, 0.903, 0.969, 1.186, 0.859, 1.048,
    0.896, 0.988, 1.121, 0.959, 1.054, 1.093, 0.928, 1.042, 1.158, 0.973,
    1.063, 1.197, 0.947, 1.091, 0.876, 1.019, 1.131, 0.965, 1.003, 0.911,
    0.983, 0.866, 1.052, 1.146, 0.978, 0.938, 1.074, 0.894, 1.115, 1.033,
    1.118, 1.029, 0.889, 0.935, 1.166, 1.058, 0.907, 1.137, 0.992, 0.872,
    0.923, 1.142, 1.001, 1.075, 0.954, 1.183, 1.026, 0.976, 0.883, 1.099,
    1.051, 0.952, 1.164, 0.909, 1.037, 0.868, 1.152, 1.067, 0.929, 1.014,
    0.874, 1.088, 0.973, 1.203, 1.108, 0.991, 0.945, 0.863, 1.079, 1.157,
    1.149, 0.914, 1.104, 1.016, 0.882, 1.129, 0.997, 1.045, 1.174, 0.942,
    0.958, 1.061, 0.926, 0.861, 1.093, 0.947, 1.184, 1.012, 1.038, 0.986,
    1.036, 1.173, 1.047, 0.964, 1.021, 1.072, 0.878, 1.118, 0.903, 1.126,
    0.901, 0.977, 1.159, 1.086, 0.933, 1.009, 1.061, 0.955, 1.191, 0.867,
    1.087, 1.023, 0.869, 1.131, 1.064, 0.887, 1.017, 1.171, 0.961, 1.052,
    0.969, 1.135, 1.083, 0.897, 1.196, 1.041, 0.921, 0.875, 1.102, 0.999,
    1.178, 0.886, 0.995, 1.057, 0.948, 1.163, 1.108, 1.034, 0.931, 1.069,
    0.937, 1.049, 1.141, 0.976, 1.119, 0.904, 0.953, 1.097, 1.011, 0.892,
    1.027, 0.961, 0.911, 1.188, 0.871, 1.076, 1.144, 0.917, 1.056, 1.132,
    0.884, 1.102, 1.031, 0.944, 1.006, 1.215, 0.862, 1.081, 0.973, 1.018,
    1.111, 0.998, 1.168, 1.039, 1.152, 0.957, 1.092, 0.988, 1.127, 0.935,
    0.949, 1.181, 0.878, 0.922, 1.044, 1.025, 0.981, 1.203, 0.899, 1.088,
    1.068, 0.905, 1.071, 1.123, 0.986, 0.942, 1.139, 0.863, 1.046, 0.971,
    0.992, 1.057, 0.967, 1.003, 1.179, 1.114, 0.895, 1.018, 1.166, 0.913,
    1.146, 0.939, 1.113, 0.873, 1.029, 0.971, 1.055, 1.148, 0.929, 1.063,
]

# second pass over the darkest part (x 29-61, y 0.86-1.18)
darkest_dpa = [
    29.05, 32.25, 35.45, 38.65, 41.85, 45.05, 48.25, 51.45, 54.65, 57.85,
    30.65, 33.85, 37.05, 40.25, 43.45, 46.65, 49.85, 53.05, 56.25, 59.45,
    29.85, 33.05, 36.25, 39.45, 42.65, 45.85, 49.05, 52.25, 55.45, 58.65,
    31.45, 34.65, 37.85, 41.05, 44.25, 47.45, 50.65, 53.85, 57.05, 60.25,
    29.35, 32.55, 35.75, 38.95, 42.15, 45.35, 48.55, 51.75, 54.95, 58.15,
    30.95, 34.15, 37.35, 40.55, 43.75, 46.95, 50.15, 53.35, 56.55, 59.75,
    30.15, 33.35, 36.55, 39.75, 42.95, 46.15, 49.35, 52.55, 55.75, 58.95,
    31.75, 34.95, 38.15, 41.35, 44.55, 47.75, 50.95, 54.15, 57.35, 60.55,
    29.65, 32.85, 36.05, 39.25, 42.45, 45.65, 48.85, 52.05, 55.25, 58.45,
    31.25, 34.45, 37.65, 40.85, 44.05, 47.25, 50.45, 53.65, 56.85, 60.05,
    30.45, 33.65, 36.85, 40.05, 43.25, 46.45, 49.65, 52.85, 56.05, 59.25,
    32.05, 35.25, 38.45, 41.65, 44.85, 48.05, 51.25, 54.45, 57.65, 60.85,
    29.15, 32.35, 35.55, 38.75, 41.95, 45.15, 48.35, 51.55, 54.75, 57.95,
    30.75, 33.95, 37.15, 40.35, 43.55, 46.75, 49.95, 53.15, 56.35, 59.55,
    29.95, 33.15, 36.35, 39.55, 42.75, 45.95, 49.15, 52.35, 55.55, 58.75,
    31.55, 34.75, 37.95, 41.15, 44.35, 47.55, 50.75, 53.95, 57.15, 60.35,
    29.45, 32.65, 35.85, 39.05, 42.25, 45.45, 48.65, 51.85, 55.05, 58.25,
    31.05, 34.25, 37.45, 40.65, 43.85, 47.05, 50.25, 53.45, 56.65, 59.85,
    30.25, 33.45, 36.65, 39.85, 43.05, 46.25, 49.45, 52.65, 55.85, 59.05,
    31.85, 35.05, 38.25, 41.45, 44.65, 47.85, 51.05, 54.25, 57.45, 60.65,
    29.75, 32.95, 36.15, 39.35, 42.55, 45.75, 48.95, 52.15, 55.35, 58.55,
    31.35, 34.55, 37.75, 40.95, 44.15, 47.35, 50.55, 53.75, 56.95, 60.15,
    30.55, 33.75, 36.95, 40.15, 43.35, 46.55, 49.75, 52.95, 56.15, 59.35,
    32.15, 35.35, 38.55, 41.75, 44.95, 48.15, 51.35, 54.55, 57.75, 60.95,
    29.25, 32.45, 35.65, 38.85, 42.05, 45.25, 48.45, 51.65, 54.85, 58.05,
    30.85, 34.05, 37.25, 40.45, 43.65, 46.85, 50.05, 53.25, 56.45, 59.65,
    30.05, 33.25, 36.45, 39.65, 42.85, 46.05, 49.25, 52.45, 55.65, 58.85,
    31.65, 34.85, 38.05, 41.25, 44.45, 47.65, 50.85, 54.05, 57.25, 60.45,
    29.55, 32.75, 35.95, 39.15, 42.35, 45.55, 48.75, 51.95, 55.15, 58.35,
    31.15, 34.35, 37.55, 40.75, 43.95, 47.15, 50.35, 53.55, 56.75, 59.95,
]
darkest_bmd = [
    0.978, 1.102, 0.893, 1.041, 1.157, 0.927, 1.066, 0.954, 1.128, 1.009,
    1.083, 0.915, 1.019, 1.172, 0.968, 1.047, 0.881, 1.113, 0.996, 1.138,
    0.936, 1.059, 1.146, 0.902, 1.024, 1.091, 0.959, 1.004, 1.169, 0.874,
    1.121, 0.983, 0.918, 1.071, 0.947, 1.164, 1.032, 0.887, 1.056, 0.991,
    1.014, 1.137, 1.062, 0.941, 1.106, 0.872, 0.999, 1.151, 0.923, 1.078,
    0.897, 1.026, 0.975, 1.124, 1.003, 1.049, 1.176, 0.958, 1.087, 0.933,
    1.158, 0.952, 1.095, 0.986, 0.867, 1.118, 0.944, 1.039, 1.011, 1.103,
    0.962, 1.074, 0.904, 1.152, 1.037, 0.981, 1.129, 0.916, 0.973, 1.045,
    1.053, 0.889, 1.133, 1.018, 1.167, 0.937, 1.076, 1.097, 0.881, 0.965,
    0.929, 1.167, 1.007, 0.879, 1.082, 1.022, 0.911, 0.977, 1.141, 1.061,
    1.097, 1.043, 0.948, 1.109, 0.925, 1.155, 1.064, 1.021, 0.953, 0.886,
    0.984, 0.908, 1.175, 1.056, 0.996, 0.894, 1.016, 1.161, 1.034, 1.117,
    1.142, 1.011, 0.869, 0.966, 1.127, 1.071, 0.935, 1.048, 0.901, 1.002,
    0.873, 1.118, 1.038, 1.146, 0.914, 1.006, 1.159, 0.876, 1.093, 0.957,
    1.029, 0.962, 1.101, 0.921, 1.061, 1.138, 0.983, 1.112, 0.942, 1.171,
    0.951, 1.084, 0.926, 1.035, 1.173, 0.961, 1.047, 0.993, 1.124, 0.898,
    1.112, 0.877, 1.052, 1.089, 0.946, 1.031, 0.906, 1.068, 1.003, 1.149,
    0.993, 1.154, 0.963, 0.898, 1.019, 1.181, 1.087, 0.937, 1.158, 1.026,
    1.067, 0.938, 1.121, 1.003, 1.136, 0.918, 0.975, 1.144, 0.867, 1.084,
    0.917, 1.031, 0.987, 1.163, 0.879, 1.096, 1.138, 1.009, 1.072, 0.944,
    1.134, 1.097, 0.909, 1.044, 0.988, 0.952, 1.023, 0.872, 1.115, 1.037,
    0.971, 0.871, 1.163, 0.925, 1.077, 1.111, 0.962, 1.054, 0.998, 1.168,
    1.045, 1.126, 1.011, 1.098, 0.934, 0.871, 1.179, 0.984, 1.036, 0.906,
    0.889, 0.995, 1.079, 0.967, 1.151, 1.028, 0.893, 1.131, 0.948, 1.074,
    1.176, 1.058, 0.942, 1.125, 1.013, 1.142, 1.004, 0.921, 1.089, 0.963,
    0.947, 0.921, 1.139, 0.881, 1.066, 0.979, 1.117, 1.072, 0.913, 1.129,
    1.024, 1.149, 0.997, 1.061, 0.907, 1.085, 0.946, 1.162, 1.052, 0.984,
    0.906, 1.036, 1.108, 0.958, 1.171, 0.913, 1.058, 0.967, 1.135, 1.093,
    1.104, 0.968, 0.884, 1.137, 1.039, 1.063, 0.924, 1.101, 0.989, 0.876,
    1.002, 1.089, 1.054, 0.932, 0.961, 1.174, 1.082, 0.944, 1.026, 1.147,
]

# smooth curve in panel B with its 95% band
fit_dpa = [14.0, 25.0, 39.6, 49.8, 54.2, 61.5, 71.8, 87.9, 105.4, 121.5,
           131.7, 144.9, 158.1, 171.2, 188.8, 209.3, 229.0]
fit_bmd = [1.0096, 1.0167, 1.0249, 1.0287, 1.0304, 1.0337, 1.0419, 1.0529, 1.0619, 1.0644,
           1.0630, 1.0556, 1.0446, 1.0310, 1.0090, 0.9852, 0.9611]
upper_dpa = [14.0, 25.0, 35.2, 45.4, 54.2, 64.4, 76.1, 87.9, 99.5, 111.2,
             122.9, 134.6, 146.3, 166.8, 188.8, 210.7, 219.5, 229.0]
upper_bmd = [1.039, 1.032, 1.0304, 1.032, 1.0364, 1.0446, 1.0556, 1.0693, 1.0844, 1.0994,
             1.1104, 1.1164, 1.1191, 1.1214, 1.1255, 1.1296, 1.135, 1.1415]
lower_dpa = [14.0, 25.0, 35.2, 45.4, 57.1, 71.8, 87.9, 105.4, 120.0, 131.7,
             144.9, 158.1, 171.2, 184.4, 196.1, 207.8, 218.0, 229.0]
lower_bmd = [0.9795, 0.9981, 1.0145, 1.0214, 1.0249, 1.029, 1.0304, 1.0288, 1.0214, 1.0118,
             0.9953, 0.9735, 0.946, 0.9131, 0.8803, 0.8447, 0.8118, 0.780]

# fitted values shown as solid dots in panel A where DPA is sparse
dot_dpa = [111.1, 114.2, 115.1, 119.1, 121.1, 122.1, 123.1, 124.1, 127.2, 128.1, 130.2,
           131.1, 139.1, 140.1, 142.2, 148.0, 150.0, 157.9, 169.0, 170.9, 211.1, 229.0]
dot_bmd = [1.063, 1.063, 1.064, 1.064, 1.064, 1.064, 1.064, 1.064, 1.063, 1.063, 1.063,
           1.062, 1.058, 1.058, 1.057, 1.053, 1.052, 1.045, 1.034, 1.032, 0.983, 0.961]

dpa = np.array(edge_dpa + tail_dpa + core_dpa + dense_dpa + darkest_dpa)
bmd = np.array(edge_bmd + tail_bmd + core_bmd + dense_bmd + darkest_bmd)

fig = plt.figure(figsize=(15.76, 7.62), dpi=100)
axA = fig.add_axes([0.0592, 0.1505, 0.4226, 0.7817])
axB = fig.add_axes([0.5897, 0.1505, 0.4038, 0.7817])


def style(ax):
    for s in ax.spines.values():
        s.set_linewidth(1.0)
    ax.tick_params(direction='out', length=9.5, width=1.0, labelsize=16.8)
    ax.tick_params(axis='x', pad=12)
    ax.tick_params(axis='y', pad=9, labelrotation=90)
    for t in ax.get_yticklabels():
        t.set_va('center')
    ax.set_xticks([50, 100, 150, 200])


# panel A: scatter with fitted values
axA.plot(dpa, bmd, 'o', ls='none', ms=4.0, mfc='none', mec='black', mew=1.5)
line_x = [x for x in fit_dpa if x < 110] + [dot_dpa[0]]
line_y = [y for x, y in zip(fit_dpa, fit_bmd) if x < 110] + [dot_bmd[0]]
axA.plot(line_x, line_y, color='black', lw=5.8, solid_capstyle='round')
axA.plot(dot_dpa, dot_bmd, 'o', ls='none', ms=6.0, color='black')
axA.set_xlim(5.9, 237.7)
axA.set_ylim(0.4335, 1.923)
axA.set_yticks([0.6, 0.8, 1.0, 1.2, 1.4, 1.6, 1.8])
axA.set_yticklabels(['0.6', '0.8', '1.0', '1.2', '1.4', '1.6', '1.8'])
style(axA)

# panel B: smooth curve, band and rug
axB.plot(fit_dpa, fit_bmd, color='black', lw=2.3)
axB.plot(upper_dpa, upper_bmd, color='black', lw=1.3, ls=(0, (1, 2.5)))
axB.plot(lower_dpa, lower_bmd, color='black', lw=1.3, ls=(0, (1, 2.5)))
ylo, yhi = 0.7071, 1.1966
axB.vlines(dpa, ylo, ylo + 0.03 * (yhi - ylo), color='black', lw=0.6)
axB.set_xlim(5.7, 234.1)
axB.set_ylim(ylo, yhi)
axB.set_yticks([0.8, 0.9, 1.0, 1.1])
axB.set_yticklabels(['0.8', '0.9', '1.0', '1.1'])
style(axB)

for ax, lx, cx in ((axA, -0.121, 0.5206), (axB, -0.1246, 0.5275)):
    ax.set_xlabel('Serum DPA (umol/L)', fontsize=17, va='center')
    ax.xaxis.set_label_coords(cx, -0.164)
    ax.set_ylabel('Lumbar spine BMD (g/cm2)', fontsize=18.3, va='center')
    ax.yaxis.set_label_coords(lx, 0.506)

fig.text(3 / 1576, 1 - 25 / 762, 'A', fontsize=20, fontweight='bold',
         family='Liberation Sans', ha='left', va='baseline')
fig.text(835 / 1576, 1 - 25 / 762, 'B', fontsize=20, fontweight='bold',
         family='Liberation Sans', ha='left', va='baseline')

fig.savefig('out.png', dpi=100)
